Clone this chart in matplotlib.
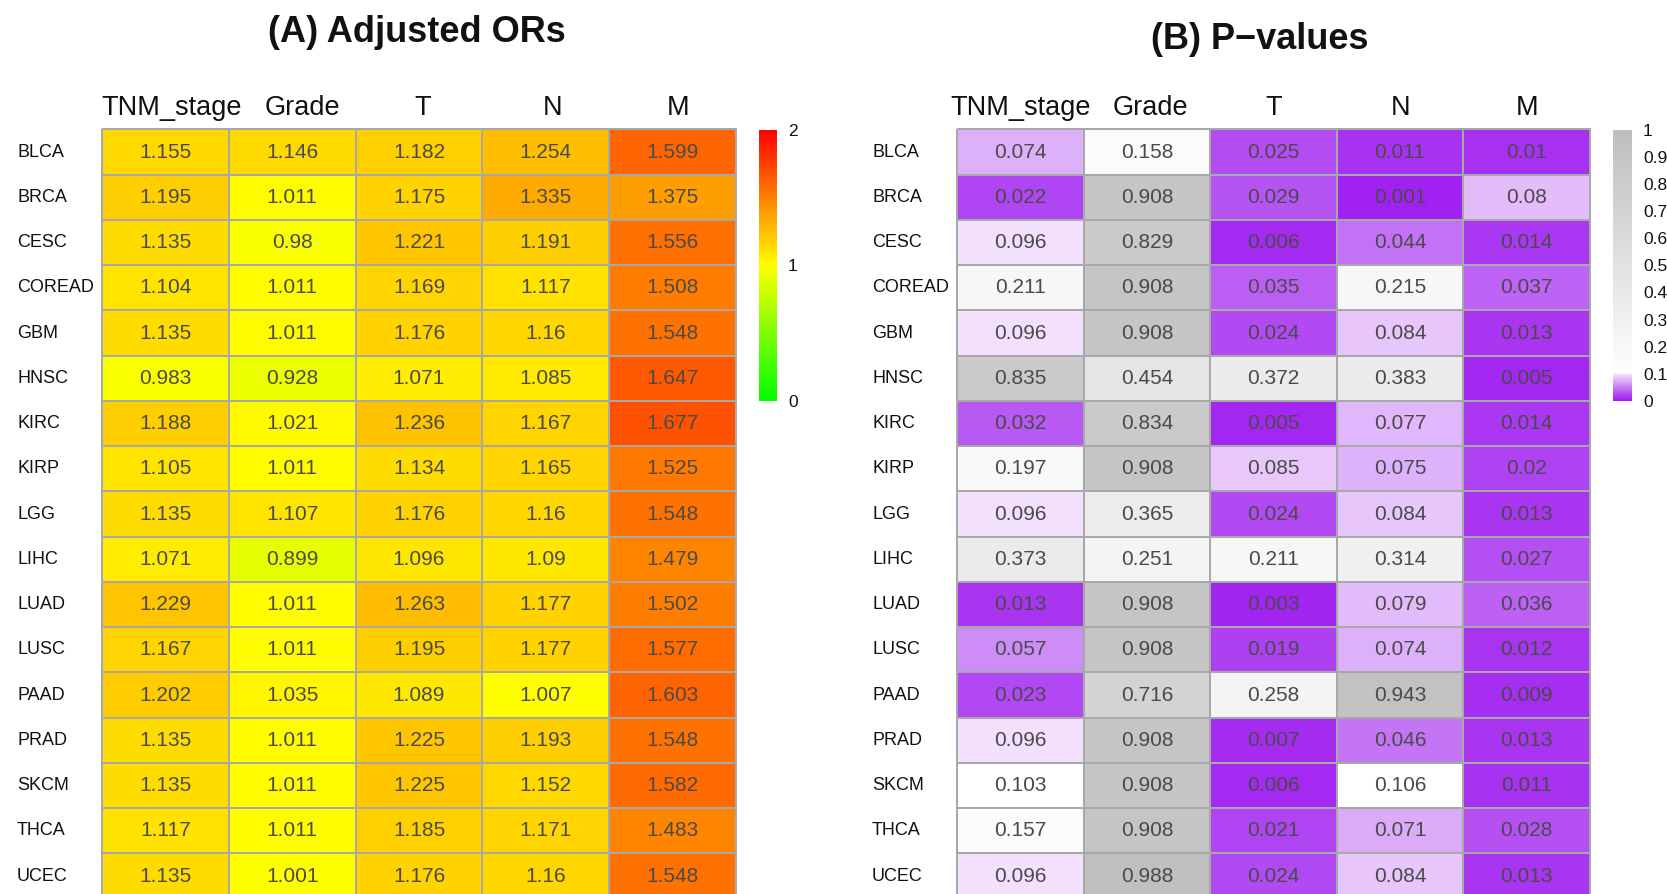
import numpy as np
import matplotlib
matplotlib.use("Agg")
import matplotlib.pyplot as plt
from matplotlib.colors import LinearSegmentedColormap, ListedColormap, Normalize, to_rgb
import matplotlib.transforms as mtrans

plt.rcParams['font.family'] = ['Liberation Sans', 'DejaVu Sans']

cancers = ["BLCA", "BRCA", "CESC", "COREAD", "GBM", "HNSC", "KIRC", "KIRP", "LGG",
           "LIHC", "LUAD", "LUSC", "PAAD", "PRAD", "SKCM", "THCA", "UCEC"]
features = ["TNM_stage", "Grade", "T", "N", "M"]

tnm_or   = [1.155, 1.195, 1.135, 1.104, 1.135, 0.983, 1.188, 1.105, 1.135, 1.071, 1.229, 1.167, 1.202, 1.135, 1.135, 1.117, 1.135]
grade_or = [1.146, 1.011, 0.98, 1.011, 1.011, 0.928, 1.021, 1.011, 1.107, 0.899, 1.011, 1.011, 1.035, 1.011, 1.011, 1.011, 1.001]
t_or     = [1.182, 1.175, 1.221, 1.169, 1.176, 1.071, 1.236, 1.134, 1.176, 1.096, 1.263, 1.195, 1.089, 1.225, 1.225, 1.185, 1.176]
n_or     = [1.254, 1.335, 1.191, 1.117, 1.16, 1.085, 1.167, 1.165, 1.16, 1.09, 1.177, 1.177, 1.007, 1.193, 1.152, 1.171, 1.16]
m_or     = [1.599, 1.375, 1.556, 1.508, 1.548, 1.647, 1.677, 1.525, 1.548, 1.479, 1.502, 1.577, 1.603, 1.548, 1.582, 1.483, 1.548]

tnm_p   = [0.074, 0.022, 0.096, 0.211, 0.096, 0.835, 0.032, 0.197, 0.096, 0.373, 0.013, 0.057, 0.023, 0.096, 0.103, 0.157, 0.096]
grade_p = [0.158, 0.908, 0.829, 0.908, 0.908, 0.454, 0.834, 0.908, 0.365, 0.251, 0.908, 0.908, 0.716, 0.908, 0.908, 0.908, 0.988]
t_p     = [0.025, 0.029, 0.006, 0.035, 0.024, 0.372, 0.005, 0.085, 0.024, 0.211, 0.003, 0.019, 0.258, 0.007, 0.006, 0.021, 0.024]
n_p     = [0.011, 0.001, 0.044, 0.215, 0.084, 0.383, 0.077, 0.075, 0.084, 0.314, 0.079, 0.074, 0.943, 0.046, 0.106, 0.071, 0.084]
m_p     = [0.01, 0.08, 0.014, 0.037, 0.013, 0.005, 0.014, 0.02, 0.013, 0.027, 0.036, 0.012, 0.009, 0.013, 0.011, 0.028, 0.013]

pv_ticks = [0, 0.1, 0.2, 0.3, 0.4, 0.5, 0.6, 0.7, 0.8, 0.9, 1]
pv_ticklabels = ["0", "0.1", "0.2", "0.3", "0.4", "0.5", "0.6", "0.7", "0.8", "0.9", "1"]
or_ticks = [0, 1, 2]
or_ticklabels = ["0", "1", "2"]

OR = np.array([tnm_or, grade_or, t_or, n_or, m_or]).T
PV = np.array([tnm_p, grade_p, t_p, n_p, m_p]).T

W, H = 1667, 894
fig = plt.figure(figsize=(W / 100, H / 100), dpi=100)

def px_axes(x0, y0, x1, y1):
    return fig.add_axes([x0 / W, 1 - y1 / H, (x1 - x0) / W, (y1 - y0) / H])

# P-value colour ramp: purple (0) -> white (0.1) -> grey (1)
PURPLE = np.array(to_rgb("#A020F0"))
WHITE = np.array([1.0, 1.0, 1.0])
GREY = np.array(to_rgb("#BEBEBE"))

def pv_color(v):
    if v < 0.1:
        t = 0.9 * (v / 0.1) ** 1.1
        return PURPLE + (WHITE - PURPLE) * t
    t = (v - 0.1) / 0.9
    return WHITE + (GREY - WHITE) * t

cmap_p = ListedColormap([pv_color(v) for v in np.linspace(0, 1, 2001)])
cmap_or = LinearSegmentedColormap.from_list("or", [(0, "#00FF00"), (0.5, "#FFFF00"), (1, "#FF0000")])
norm_or = Normalize(0, 2)
norm_p = Normalize(0, 1)

TOP = 129.4
ROWH = 45.25
BOTTOM = TOP + ROWH * len(cancers)
GRID = "#A8A8A8"
TXT = "#4a4a4a"

def heatmap(x0, x1, data, cmap, norm, rowlab_x, col_off, title, title_x, title_y):
    ax = px_axes(x0, TOP, x1, BOTTOM)
    nr, nc = data.shape
    ax.pcolormesh(np.arange(nc + 1), np.arange(nr + 1), data, cmap=cmap, norm=norm,
                  edgecolors=GRID, linewidth=1.3, clip_on=False)
    ax.set_xlim(0, nc)
    ax.set_ylim(nr, 0)
    ax.axis("off")
    for i in range(nr):
        for j in range(nc):
            ax.text(j + 0.5, i + 0.5, f"{data[i, j]:g}", ha="center", va="center",
                    fontsize=15, color=TXT)
    tr_row = mtrans.blended_transform_factory(fig.transFigure, ax.transData)
    for i, name in enumerate(cancers):
        ax.text(rowlab_x / W, i + 0.5, name, transform=tr_row, ha="left", va="center",
                fontsize=13, color="#111111")
    tr_col = mtrans.blended_transform_factory(ax.transData, fig.transFigure)
    for j, name in enumerate(features):
        ax.text(j + 0.5 + col_off[j], 1 - 115 / H, name, transform=tr_col, ha="center",
                va="baseline", fontsize=19.5, color="#111111")
    fig.text(title_x / W, 1 - title_y / H, title, ha="center", va="baseline",
             fontsize=26, fontweight="bold", color="#111111")
    return ax

heatmap(102, 736, OR, cmap_or, norm_or, 17, [0.05, 0.08, 0.03, 0.05, 0.04],
        "(A) Adjusted ORs", 417, 42.5)
heatmap(957, 1590, PV, cmap_p, norm_p, 872, [0, 0.03, 0, 0, 0],
        "(B) P\u2212values", 1260, 49)

def colorbar(x0, x1, cmap, norm, ticks, labels):
    cax = px_axes(x0, 129.5, x1, 401)
    grad = np.linspace(norm.vmin, norm.vmax, 512)[:, None]
    cax.imshow(grad, aspect="auto", cmap=cmap, norm=norm, origin="lower",
               extent=[0, 1, norm.vmin, norm.vmax])
    cax.set_xticks([])
    cax.set_ylim(norm.vmin, norm.vmax)
    cax.yaxis.tick_right()
    cax.set_yticks(ticks)
    cax.set_yticklabels(labels)
    cax.tick_params(axis="y", length=0, pad=8, labelsize=12.5, labelcolor="#111111")
    for s in cax.spines.values():
        s.set_visible(False)

colorbar(759, 777, cmap_or, norm_or, or_ticks, or_ticklabels)
colorbar(1613, 1632, cmap_p, norm_p, pv_ticks, pv_ticklabels)

fig.savefig("out.png", dpi=100, facecolor="white")
